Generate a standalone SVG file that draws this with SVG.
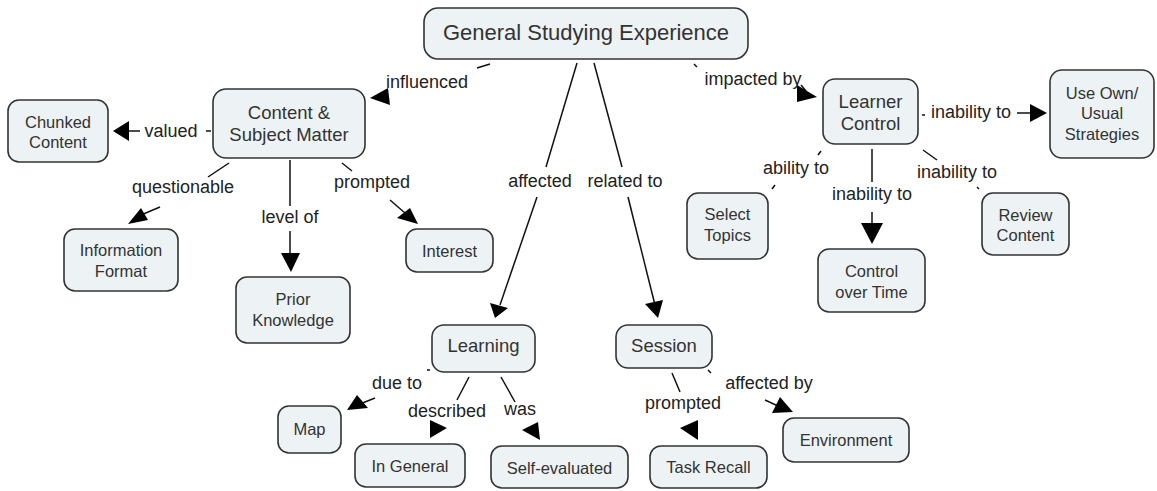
<svg xmlns="http://www.w3.org/2000/svg" width="1157" height="491" viewBox="0 0 1157 491">
  <style>
    .node rect { fill: #edf2f5; stroke: #333333; stroke-width: 1.6; }
    .node text { font-family: "Liberation Sans", Arial, sans-serif; fill: #333333; text-anchor: middle; }
    .big { font-size: 22px; }
    .mid { font-size: 18.5px; }
    .sm { font-size: 16.5px; }
    .edges line, .edges polyline { stroke: #111111; stroke-width: 1.5; fill: none; }
    .edges polygon { fill: #000000; stroke: none; }
    .edges text { font-family: "Liberation Sans", Arial, sans-serif; font-size: 18px; fill: #222222; text-anchor: middle; }
  </style>
  <rect width="1157" height="491" fill="#ffffff"/>

  <!-- connectors: line stubs, linking phrases and arrowheads -->
  <g class="edges">
    <!-- General Studying Experience -> influenced -> Content & Subject Matter -->
    <line x1="490" y1="64" x2="477" y2="68"/>
    <text x="427" y="88">influenced</text>
    <polygon points="370,98 388,88 390,105"/>

    <!-- GSE -> affected -> Learning -->
    <line x1="577" y1="63" x2="546" y2="167"/>
    <text x="540" y="187">affected</text>
    <line x1="537" y1="197" x2="500" y2="305"/>
    <polygon points="490,303 508,308 495,318"/>

    <!-- GSE -> related to -> Session -->
    <line x1="594" y1="63" x2="622" y2="167"/>
    <text x="625" y="187">related to</text>
    <line x1="628" y1="197" x2="655" y2="305"/>
    <polygon points="645,304 663,300 658,318"/>

    <!-- GSE -> impacted by -> Learner Control -->
    <line x1="694" y1="64" x2="697" y2="67"/>
    <text x="753" y="85">impacted by</text>
    <line x1="801" y1="85" x2="806" y2="91"/>
    <polygon points="797,85 817,97 797,102"/>

    <!-- Content & Subject Matter -> valued -> Chunked Content -->
    <line x1="211" y1="131" x2="206" y2="131"/>
    <text x="171" y="137">valued</text>
    <line x1="140" y1="131" x2="126" y2="131"/>
    <polygon points="113,131 129,121 129,141"/>

    <!-- Content & Subject Matter -> questionable -> Information Format -->
    <line x1="229" y1="163" x2="208" y2="177"/>
    <text x="183" y="193">questionable</text>
    <line x1="160" y1="207" x2="141" y2="215"/>
    <polygon points="128,224 141,208 148,220"/>

    <!-- Content & Subject Matter -> level of -> Prior Knowledge -->
    <line x1="290" y1="160" x2="290" y2="206"/>
    <text x="290" y="223">level of</text>
    <line x1="290" y1="231" x2="290" y2="256"/>
    <polygon points="281,253 300,253 291,272"/>

    <!-- Content & Subject Matter -> prompted -> Interest -->
    <line x1="342" y1="163" x2="352" y2="171"/>
    <text x="372" y="188">prompted</text>
    <line x1="390" y1="200" x2="405" y2="213"/>
    <polygon points="397,218 410,208 418,224"/>

    <!-- Learner Control -> inability to -> Use Own/Usual Strategies -->
    <line x1="922" y1="115" x2="925" y2="115"/>
    <text x="971" y="118">inability to</text>
    <line x1="1017" y1="113" x2="1032" y2="113"/>
    <polygon points="1030,104 1047,113 1030,122"/>

    <!-- Learner Control -> ability to -> Select Topics -->
    <line x1="818" y1="155" x2="821" y2="151"/>
    <text x="796" y="174">ability to</text>
    <line x1="772" y1="189" x2="775" y2="185"/>

    <!-- Learner Control -> inability to -> Control over Time -->
    <line x1="872" y1="149" x2="872" y2="182"/>
    <text x="872" y="200">inability to</text>
    <line x1="872" y1="212" x2="872" y2="226"/>
    <polygon points="861,223 883,223 872,244"/>

    <!-- Learner Control -> inability to -> Review Content -->
    <line x1="923" y1="150" x2="937" y2="160"/>
    <text x="957" y="178">inability to</text>
    <line x1="977" y1="187" x2="979" y2="189"/>

    <!-- Learning -> due to -> Map -->
    <line x1="427" y1="370" x2="430" y2="370"/>
    <text x="397" y="389">due to</text>
    <line x1="375" y1="398" x2="360" y2="404"/>
    <polygon points="347,410 357,395 368,408"/>

    <!-- Learning -> described -> In General -->
    <line x1="469" y1="377" x2="457" y2="400"/>
    <text x="447" y="417">described</text>
    <polygon points="430,420 447,428 430,438"/>

    <!-- Learning -> was -> Self-evaluated -->
    <line x1="501" y1="377" x2="515" y2="402"/>
    <text x="520" y="415">was</text>
    <polygon points="538,422 522,430 540,440"/>

    <!-- Session -> prompted -> Task Recall -->
    <line x1="672" y1="373" x2="680" y2="392"/>
    <text x="683" y="409">prompted</text>
    <polygon points="680,428 698,420 698,440"/>

    <!-- Session -> affected by -> Environment -->
    <line x1="708" y1="370" x2="711" y2="373"/>
    <text x="769" y="389">affected by</text>
    <line x1="765" y1="400" x2="778" y2="406"/>
    <polygon points="772,413 780,397 793,412"/>
  </g>

  <!-- concept nodes -->
  <g id="general-studying-experience" class="node">
    <rect x="424" y="8" width="324" height="51" rx="14"/>
    <text class="big" x="586" y="40">General Studying Experience</text>
  </g>
  <g id="content-subject-matter" class="node">
    <rect x="213" y="89" width="152" height="69" rx="13"/>
    <text class="mid" x="289" y="119">Content &amp;</text>
    <text class="mid" x="289" y="141">Subject Matter</text>
  </g>
  <g id="chunked-content" class="node">
    <rect x="8" y="100" width="100" height="62" rx="11"/>
    <text class="sm" x="58" y="128">Chunked</text>
    <text class="sm" x="58" y="148">Content</text>
  </g>
  <g id="information-format" class="node">
    <rect x="64" y="229" width="114" height="62" rx="11"/>
    <text class="sm" x="121" y="256">Information</text>
    <text class="sm" x="121" y="277">Format</text>
  </g>
  <g id="prior-knowledge" class="node">
    <rect x="236" y="277" width="114" height="66" rx="11"/>
    <text class="sm" x="293" y="305">Prior</text>
    <text class="sm" x="293" y="326">Knowledge</text>
  </g>
  <g id="interest" class="node">
    <rect x="406" y="229" width="87" height="43" rx="11"/>
    <text class="sm" x="449.5" y="257">Interest</text>
  </g>
  <g id="learning" class="node">
    <rect x="432" y="325" width="103" height="47" rx="12"/>
    <text class="mid" x="483.5" y="352">Learning</text>
  </g>
  <g id="session" class="node">
    <rect x="616" y="325" width="96" height="43" rx="12"/>
    <text class="mid" x="664" y="352">Session</text>
  </g>
  <g id="map" class="node">
    <rect x="278" y="406" width="63" height="47" rx="11"/>
    <text class="sm" x="309.5" y="435">Map</text>
  </g>
  <g id="in-general" class="node">
    <rect x="355" y="444" width="110" height="43" rx="11"/>
    <text class="sm" x="410" y="472">In General</text>
  </g>
  <g id="self-evaluated" class="node">
    <rect x="491" y="446" width="137" height="42" rx="11"/>
    <text class="sm" x="559.5" y="474">Self-evaluated</text>
  </g>
  <g id="task-recall" class="node">
    <rect x="650" y="446" width="117" height="42" rx="11"/>
    <text class="sm" x="708.5" y="473">Task Recall</text>
  </g>
  <g id="environment" class="node">
    <rect x="783" y="418" width="126" height="44" rx="11"/>
    <text class="sm" x="846" y="446">Environment</text>
  </g>
  <g id="learner-control" class="node">
    <rect x="823" y="79" width="95" height="65" rx="12"/>
    <text class="mid" x="870.5" y="108">Learner</text>
    <text class="mid" x="870.5" y="130">Control</text>
  </g>
  <g id="use-own-usual-strategies" class="node">
    <rect x="1050" y="70" width="104" height="88" rx="12"/>
    <text class="sm" x="1102" y="99">Use Own/</text>
    <text class="sm" x="1102" y="119">Usual</text>
    <text class="sm" x="1102" y="140">Strategies</text>
  </g>
  <g id="select-topics" class="node">
    <rect x="687" y="193" width="81" height="66" rx="11"/>
    <text class="sm" x="727.5" y="220">Select</text>
    <text class="sm" x="727.5" y="241">Topics</text>
  </g>
  <g id="review-content" class="node">
    <rect x="982" y="193" width="87" height="62" rx="11"/>
    <text class="sm" x="1025.5" y="221">Review</text>
    <text class="sm" x="1025.5" y="241">Content</text>
  </g>
  <g id="control-over-time" class="node">
    <rect x="818" y="249" width="107" height="63" rx="11"/>
    <text class="sm" x="871.5" y="277">Control</text>
    <text class="sm" x="871.5" y="298">over Time</text>
  </g>
</svg>
